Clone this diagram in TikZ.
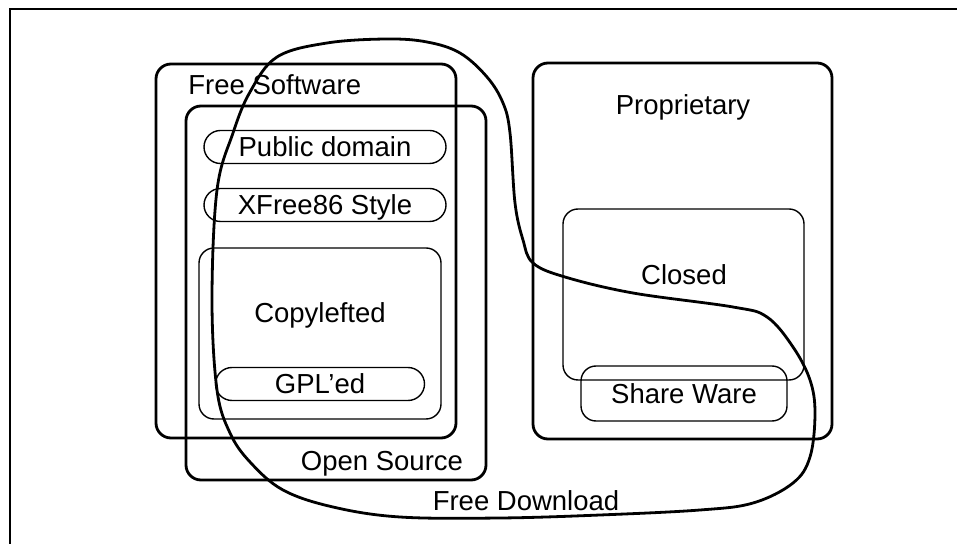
\documentclass[tikz,border=0pt]{standalone}
\usepackage{fontspec}
\setmainfont{Liberation Sans}
\usepackage{tikz}
\usetikzlibrary{shapes.misc}

\begin{document}
\begin{tikzpicture}[x=0.5pt, y=-0.5pt,
    every node/.style={font=\fontsize{13.75}{16}\selectfont, inner sep=0pt},
    bigbox/.style={rectangle, draw, line width=1.4pt, rounded corners=7.5pt},
    subbox/.style={rectangle, draw, line width=0.7pt, rounded corners=7.5pt},
    pill/.style={rounded rectangle, draw, line width=0.7pt, text depth=0pt},
    lbl/.style={anchor=base}]
    \useasboundingbox (0,0) rectangle (957,544);
    \draw[line width=1.4pt] (10,544) -- (10,9) -- (957,9);
    \node[bigbox, minimum width=150pt, minimum height=187pt] (freesw) at (306,251) {};
    \node[bigbox, minimum width=150pt, minimum height=187pt] (opensrc) at (336,293) {};
    \node[lbl, anchor=base west] (freeswlbl) at (188,95) {Free Software};
    \node[lbl] (opensrclbl) at (382,471) {Open Source};
    \node[pill, minimum width=121pt, minimum height=16.5pt] (pubdom) at (325,147) {Public domain};
    \node[pill, minimum width=121pt, minimum height=16.5pt] (xfree) at (325,205) {XFree86 Style};
    \node[subbox, minimum width=121pt, minimum height=85.5pt] (copyleft) at (320,333.5) {};
    \node[lbl] (copyleftlbl) at (320,323) {Copylefted};
    \node[pill, minimum width=104.5pt, minimum height=16.5pt] (gpl) at (320,384) {GPL'ed};
    \node[bigbox, minimum width=149.5pt, minimum height=188pt] (prop) at (682.5,251) {};
    \node[lbl] (proplbl) at (683,115) {Proprietary};
    \node[subbox, minimum width=120.5pt, minimum height=85.5pt] (closed) at (683.5,294.5) {};
    \node[lbl] (closedlbl) at (684,285) {Closed};
    \node[subbox, minimum width=103pt, minimum height=27.5pt, text depth=0pt] (share) at (684,393.5) {Share Ware};
    \draw[line width=1.4pt] plot[smooth cycle, tension=0.6] coordinates {
      (212,300) (217,190) (233,133) (250,92) (277,57) (327,43) (387,39)
      (427,42) (460,53) (487,77) (503,103) (510,133) (515,203) (523,240)
      (533,263) (565,277) (633,293) (733,307) (767,317) (793,347) (810,380)
      (815,413) (810,457) (793,483) (753,503) (700,510) (600,515) (500,518)
      (400,517) (333,507) (283,490) (250,462) (230,433) (217,390)};
    \node[lbl] (downlbl) at (526,510) {Free Download};
  \end{tikzpicture}
\end{document}
